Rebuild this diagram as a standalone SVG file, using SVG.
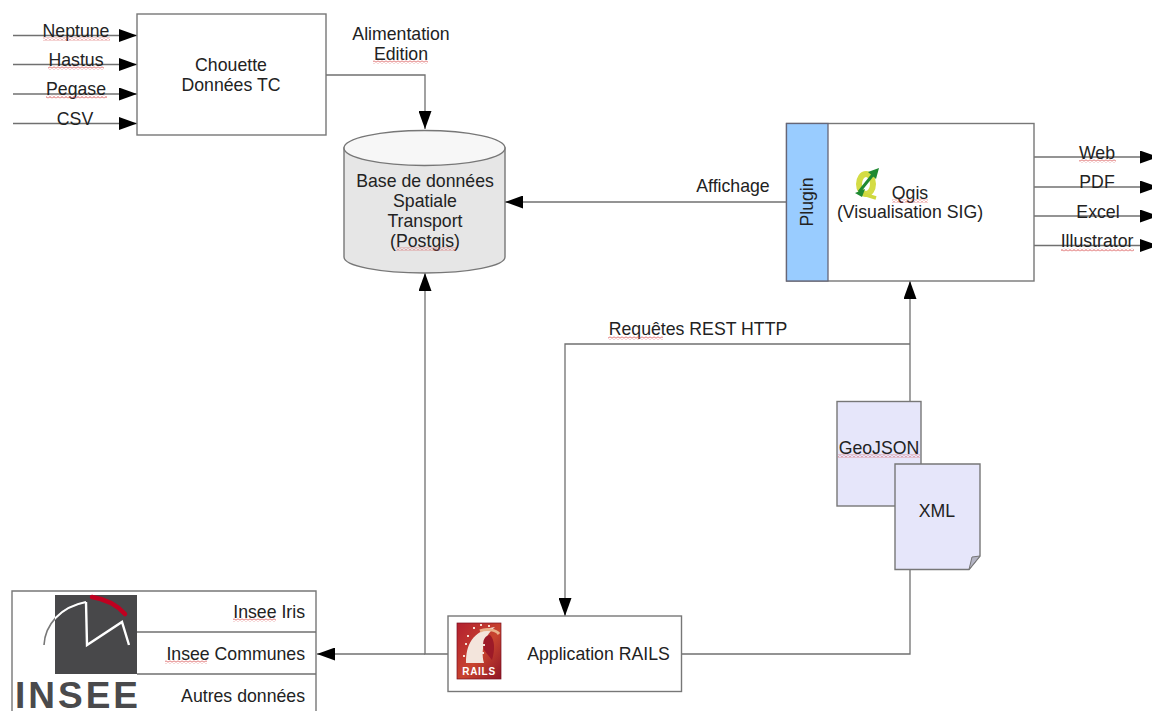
<svg xmlns="http://www.w3.org/2000/svg" width="1152" height="711" viewBox="0 0 1152 711">
<style>
text{font-family:"Liberation Sans",Arial,sans-serif;font-size:17.7px;fill:#222;text-anchor:middle}
.e{text-anchor:end}
.b{fill:#fff;stroke:#777;stroke-width:1.4}
.d{fill:#e6e6fa;stroke:#777;stroke-width:1.4}
.c{fill:none;stroke:#707070;stroke-width:1.3;marker-end:url(#a)}
.n{fill:none;stroke:#707070;stroke-width:1.3}
</style>
<defs>
<marker id="a" markerUnits="userSpaceOnUse" markerWidth="18" markerHeight="13" refX="18" refY="6.5" orient="auto"><path d="M0 0L18 6.5L0 13Z" fill="#000"/></marker>
<pattern id="w" patternUnits="userSpaceOnUse" width="4" height="3"><path d="M0 2.500L2 .5L4 2.500" fill="none" stroke="#d85050" stroke-width="1"/></pattern>
<linearGradient id="r" x1="0" y1="0" x2="1" y2="1"><stop offset="0" stop-color="#b3202f"/><stop offset=".55" stop-color="#c8442f"/><stop offset="1" stop-color="#8f1526"/></linearGradient>
<clipPath id="sq"><rect x="55" y="595" width="82" height="79"/></clipPath>
</defs>
<rect width="1152" height="711" fill="#fff"/>
<g id="connectors">
<path class="c" d="M13 35.500H137"/>
<path class="c" d="M13 64.500H137"/>
<path class="c" d="M13 94H137"/>
<path class="c" d="M13 123.500H137"/>
<path class="c" d="M326 75H425V129"/>
<path class="c" d="M786 202H505"/>
<path class="c" d="M1034 157H1158"/>
<path class="c" d="M1034 187H1158"/>
<path class="c" d="M1034 216H1158"/>
<path class="c" d="M1034 245.500H1158"/>
<path class="c" d="M681 654H910V281"/>
<path class="c" d="M910 344H565V616"/>
<path class="c" d="M448 654H425V273"/>
<path class="c" d="M425 654H317"/>
</g>
<g id="chouette">
<rect class="b" x="137" y="14" width="189" height="121"/>
<text x="231" y="71">Chouette</text>
<text x="231" y="91">Données TC</text>
</g>
<g id="inputs">
<text x="76" y="37">Neptune</text><rect x="43" y="37.500" width="67" height="3" fill="url(#w)"/>
<text x="76" y="66">Hastus</text><rect x="48" y="66.500" width="56" height="3" fill="url(#w)"/>
<text x="76" y="95">Pegase</text><rect x="46" y="95.500" width="61" height="3" fill="url(#w)"/>
<text x="75" y="125">CSV</text>
</g>
<g id="alimentation">
<text x="401" y="40">Alimentation</text>
<text x="401" y="60">Edition</text><rect x="373" y="60.500" width="55" height="3" fill="url(#w)"/>
</g>
<g id="database">
<path d="M344 148V257C344 266 380 273 424.500 273S505 266 505 257V148Z" fill="#e6e6e6" stroke="#777" stroke-width="1.4"/>
<ellipse cx="424.500" cy="148" rx="80.500" ry="17.500" fill="#f7f7f7" stroke="#777" stroke-width="1.4"/>
<text x="425" y="187">Base de données</text>
<text x="425" y="207">Spatiale</text>
<text x="425" y="227">Transport</text>
<text x="425" y="247">(Postgis)</text><rect x="396" y="247.500" width="60" height="3" fill="url(#w)"/>
</g>
<g id="qgis">
<rect class="b" x="786.500" y="123.500" width="247.500" height="157.500"/>
<rect x="786.500" y="123.500" width="41.500" height="157.500" fill="#99ccff" stroke="#667" stroke-width="1.3"/>
<text transform="translate(813 202) rotate(-90)">Plugin</text>
<ellipse cx="866" cy="184" rx="7" ry="10" fill="none" stroke="#d4dc45" stroke-width="6"/>
<path d="M860 193L876 198" stroke="#cfd83f" stroke-width="3.500"/>
<path d="M859 192L875 172" stroke="#1f8a32" stroke-width="3"/>
<path d="M879 168L868 172L876 179Z" fill="#1f8a32"/>
<path d="M855 193L865 189L862 197Z" fill="#1f8a32"/>
<text x="910" y="199">Qgis</text><rect x="892" y="199.500" width="36" height="3" fill="url(#w)"/>
<text x="910" y="218">(Visualisation SIG)</text>
</g>
<g id="outputs">
<text x="1097" y="159">Web</text><rect x="1079" y="159.500" width="37" height="3" fill="url(#w)"/>
<text x="1097" y="188">PDF</text>
<text x="1098" y="218">Excel</text>
<text x="1097" y="247">Illustrator</text><rect x="1061" y="248.500" width="73" height="3" fill="url(#w)"/>
</g>
<g id="labels">
<text x="733" y="192">Affichage</text>
<text x="698" y="335">Requêtes REST HTTP</text><rect x="608" y="336.500" width="55" height="3" fill="url(#w)"/>
</g>
<g id="geojson">
<rect class="d" x="837" y="401.500" width="84" height="104.500"/>
<text x="879" y="454">GeoJSON</text><rect x="838" y="454.500" width="82" height="3" fill="url(#w)"/>
</g>
<g id="xml">
<path class="d" d="M895 464H980V556L969 569.500H895Z"/>
<path d="M969 569.500L972 557L980 556Z" fill="#b4b4c4" stroke="#777" stroke-width="1"/>
<text x="937" y="517">XML</text>
</g>
<g id="rails">
<rect class="b" x="448" y="616" width="233.500" height="75.500"/>
<rect x="457" y="623" width="44" height="56" fill="url(#r)" stroke="#7a1020" stroke-width=".7"/>
<path d="M466 663C466 645 472 631 495 627C486 634 480 648 484 663Z" fill="#f3e5dc"/>
<path d="M480 631C487 628 496 630 499 634" fill="none" stroke="#e9b08a" stroke-width="3"/>
<path d="M484 650C481 640 486 635 490 635C495 640 495 650 492 660Z" fill="#9c1a28"/>
<path d="M465 644h2M467 636h2M473 628h2M480 625h2M488 626h2M483 645h2M482 653h2M463 656h2" stroke="#f5dfd5" stroke-width="1.800"/>
<text x="479" y="675" style="font-size:10px;font-weight:bold;fill:#fff;letter-spacing:.7px">RAILS</text>
<text x="598.500" y="660">Application RAILS</text>
</g>
<g id="insee">
<path class="b" d="M12 720V591H316V720"/>
<path class="n" d="M137 632H316M137 674H316"/>
<rect x="55" y="595" width="82" height="79" fill="#48484a"/>
<path d="M44 645C45 625 60 607 86 602" fill="none" stroke="#777" stroke-width="1.6"/>
<path d="M44 645C45 625 60 607 86 602" fill="none" stroke="#fff" stroke-width="2" clip-path="url(#sq)"/>
<path d="M86 602L87 645L122 622L129 645" fill="none" stroke="#fff" stroke-width="2.400"/>
<path d="M92 597C105 599 117 605 125 614" fill="none" stroke="#c00020" stroke-width="4.500" stroke-linecap="round"/>
<text x="15" y="708" style="font-size:37px;font-weight:bold;fill:#4a4a4c;letter-spacing:3px;text-anchor:start">INSEE</text>
<text class="e" x="305" y="618">Insee Iris</text><rect x="233" y="618.500" width="43" height="3" fill="url(#w)"/>
<text class="e" x="305" y="660">Insee Communes</text><rect x="165" y="660.500" width="42" height="3" fill="url(#w)"/>
<text class="e" x="305" y="702">Autres données</text>
</g>
</svg>
